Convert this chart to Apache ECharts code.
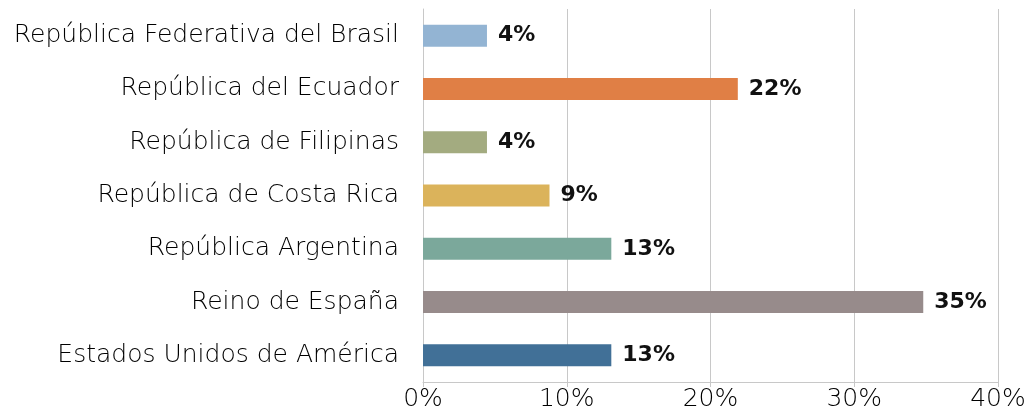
<!DOCTYPE html>
<html><head><meta charset="utf-8">
<script src="https://cdn.jsdelivr.net/npm/echarts@6/dist/echarts.min.js"></script>
<style>html,body{margin:0;padding:0;background:#fff}#c{width:1029px;height:415px}</style>
</head><body><div id="c"></div>
<script>
const categories = ["República Federativa del Brasil","República del Ecuador","República de Filipinas","República de Costa Rica","República Argentina","Reino de España","Estados Unidos de América"];
const values = [4.45, 21.9, 4.45, 8.8, 13.1, 34.8, 13.1];
const labels = ["4%","22%","4%","9%","13%","35%","13%"];
const colors = ["#93B4D3","#E07F45","#A3AB80","#DBB35B","#7BA89B","#978B8B","#417097"];
const xTicks = [0,10,20,30,40];

const chart = echarts.init(document.getElementById('c'));
chart.setOption({
  animation:false,
  grid:{left:423,right:31,top:9,bottom:33,containLabel:false},
  xAxis:{type:'value',min:0,max:40,interval:10,
    axisLine:{show:true,lineStyle:{color:'#c8c8c8'}},
    axisTick:{show:true,length:5,lineStyle:{color:'#c8c8c8'}},
    splitLine:{show:true,lineStyle:{color:'#c8c8c8'}},
    axisLabel:{formatter:v=>v+'%',fontFamily:'DejaVu Sans',fontWeight:200,fontSize:25,color:'#000',margin:5}},
  yAxis:{type:'category',inverse:true,data:categories,
    axisLine:{show:true,lineStyle:{color:'#c8c8c8'}},axisTick:{show:false},
    axisLabel:{fontFamily:'DejaVu Sans',fontWeight:200,fontSize:25,color:'#000',margin:24,padding:[4,0,0,0]}},
  series:[{type:'bar',barWidth:22,
    data:values.map((v,i)=>({value:v,itemStyle:{color:colors[i]},label:{formatter:labels[i]}})),
    label:{show:true,position:'right',distance:11,fontFamily:'DejaVu Sans',fontWeight:'bold',fontSize:22,color:'#111'}}]
});
</script></body></html>
